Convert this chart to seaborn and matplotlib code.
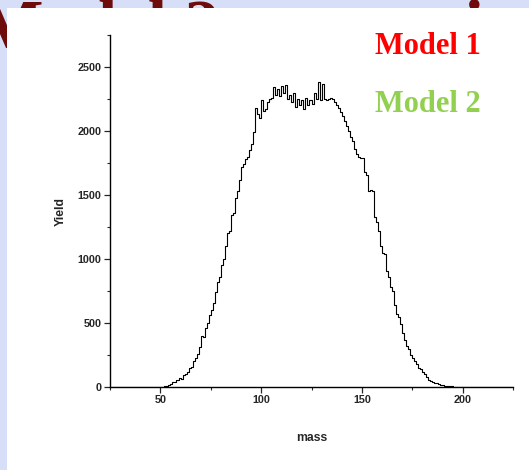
import numpy as np
import pandas as pd
import matplotlib
matplotlib.use("Agg")
import matplotlib.pyplot as plt
from matplotlib.ticker import MultipleLocator
import seaborn as sns

# Mass histogram, 1-unit bins from 25 to 225 (left edge of each bin)
mass_bins = list(range(25, 225))
yield_counts = [
    # 25-49
    0, 0, 0, 0, 0, 0, 0, 0, 0, 0, 0, 0, 0, 1, 0, 0, 1, 0, 1, 1, 0, 1, 1, 2, 1,
    # 50-74
    1, 3, 6, 10, 18, 25, 40, 38, 55, 70, 65, 90, 105, 120, 150, 160, 200, 230, 260, 310,
    400, 390, 460, 500, 560,
    # 75-99
    600, 660, 740, 820, 860, 950, 1000, 1100, 1200, 1220, 1340, 1360, 1480, 1530, 1620,
    1720, 1740, 1780, 1800, 1850, 1900, 1990, 2180, 2130, 2100,
    # 100-124
    2240, 2160, 2170, 2230, 2250, 2260, 2340, 2280, 2330, 2270, 2350, 2300, 2360, 2250, 2280,
    2230, 2300, 2190, 2250, 2200, 2240, 2170, 2260, 2200, 2240,
    # 125-149
    2210, 2300, 2250, 2380, 2240, 2370, 2250, 2240, 2250, 2260, 2250, 2230, 2200, 2180, 2150,
    2120, 2080, 2040, 2000, 1950, 1920, 1860, 1820, 1800, 1790,
    # 150-174
    1790, 1680, 1660, 1530, 1540, 1530, 1330, 1290, 1220, 1100, 1050, 1040, 910, 860, 780,
    750, 640, 570, 550, 490, 420, 370, 320, 300, 250,
    # 175-199
    230, 200, 180, 150, 140, 120, 105, 75, 55, 50, 40, 35, 30, 22, 18,
    15, 10, 7, 5, 4, 3, 2, 2, 1, 1,
    # 200-224
    1, 0, 1, 0, 0, 1, 0, 0, 0, 0, 0, 0, 0, 0, 0, 0, 0, 0, 0, 0, 0, 0, 0, 0, 0,
]
x_ticks = [50, 100, 150, 200]
y_ticks = [0, 500, 1000, 1500, 2000, 2500]
slide_title = "Model 2 comparison"
model_labels = ["Model 1", "Model 2"]
model_colors = ["#FF0000", "#92D050"]

df = pd.DataFrame({"mass": np.array(mass_bins) + 0.5, "count": yield_counts})
edges = list(range(25, 226))

sns.set_style("ticks")
plt.rcParams["font.family"] = ["Liberation Sans", "DejaVu Sans"]

W, H = 529, 470
fig = plt.figure(figsize=(W / 100, H / 100), dpi=100)
fig.patch.set_facecolor("#D6DEF8")

# slide heading, mostly hidden behind the white panel
fig.text(-22 / W, 1 - 48 / H, slide_title, fontsize=50, fontweight="bold",
         family=["Liberation Serif", "DejaVu Serif"], color="#6E0B0B",
         ha="left", va="baseline", zorder=0)
panel = plt.Rectangle((7 / W, 0), 1 - 7 / W, 1 - 8 / H, transform=fig.transFigure,
                      facecolor="white", edgecolor="none", zorder=1)
fig.patches.append(panel)

ax = fig.add_axes([110 / W, 1 - 387 / H, 403 / W, 352 / H], zorder=2)
ax.set_facecolor("none")
sns.histplot(data=df, x="mass", weights="count", bins=edges, element="step",
             fill=False, color="black", linewidth=0.8, ax=ax)

ax.set_xlim(25, 225)
ax.set_ylim(0, 2750)
ax.set_xticks(x_ticks)
ax.set_yticks(y_ticks)
ax.xaxis.set_minor_locator(MultipleLocator(25))
ax.yaxis.set_minor_locator(MultipleLocator(250))
for side in ("top", "right"):
    ax.spines[side].set_visible(False)
for side in ("left", "bottom"):
    ax.spines[side].set_linewidth(1.0)
    ax.spines[side].set_color("black")
ax.tick_params(which="major", direction="out", length=4, width=0.9, labelsize=7.8, pad=2)
ax.tick_params(which="minor", direction="out", length=2.5, width=0.8)
for lbl in ax.get_xticklabels() + ax.get_yticklabels():
    lbl.set_fontweight("bold")
ax.set_xlabel("mass", fontsize=8.8, fontweight="bold", labelpad=19)
ax.set_ylabel("Yield", fontsize=8.8, fontweight="bold", labelpad=8)

# model names in the upper right
for i, (lab, col) in enumerate(zip(model_labels, model_colors)):
    fig.text(428 / W, 1 - (47 + 58 * i) / H, lab, fontsize=22, fontweight="bold",
             family=["Liberation Serif", "DejaVu Serif"], color=col,
             ha="center", va="center", zorder=3)

fig.savefig("out.png", dpi=100, facecolor=fig.get_facecolor())
